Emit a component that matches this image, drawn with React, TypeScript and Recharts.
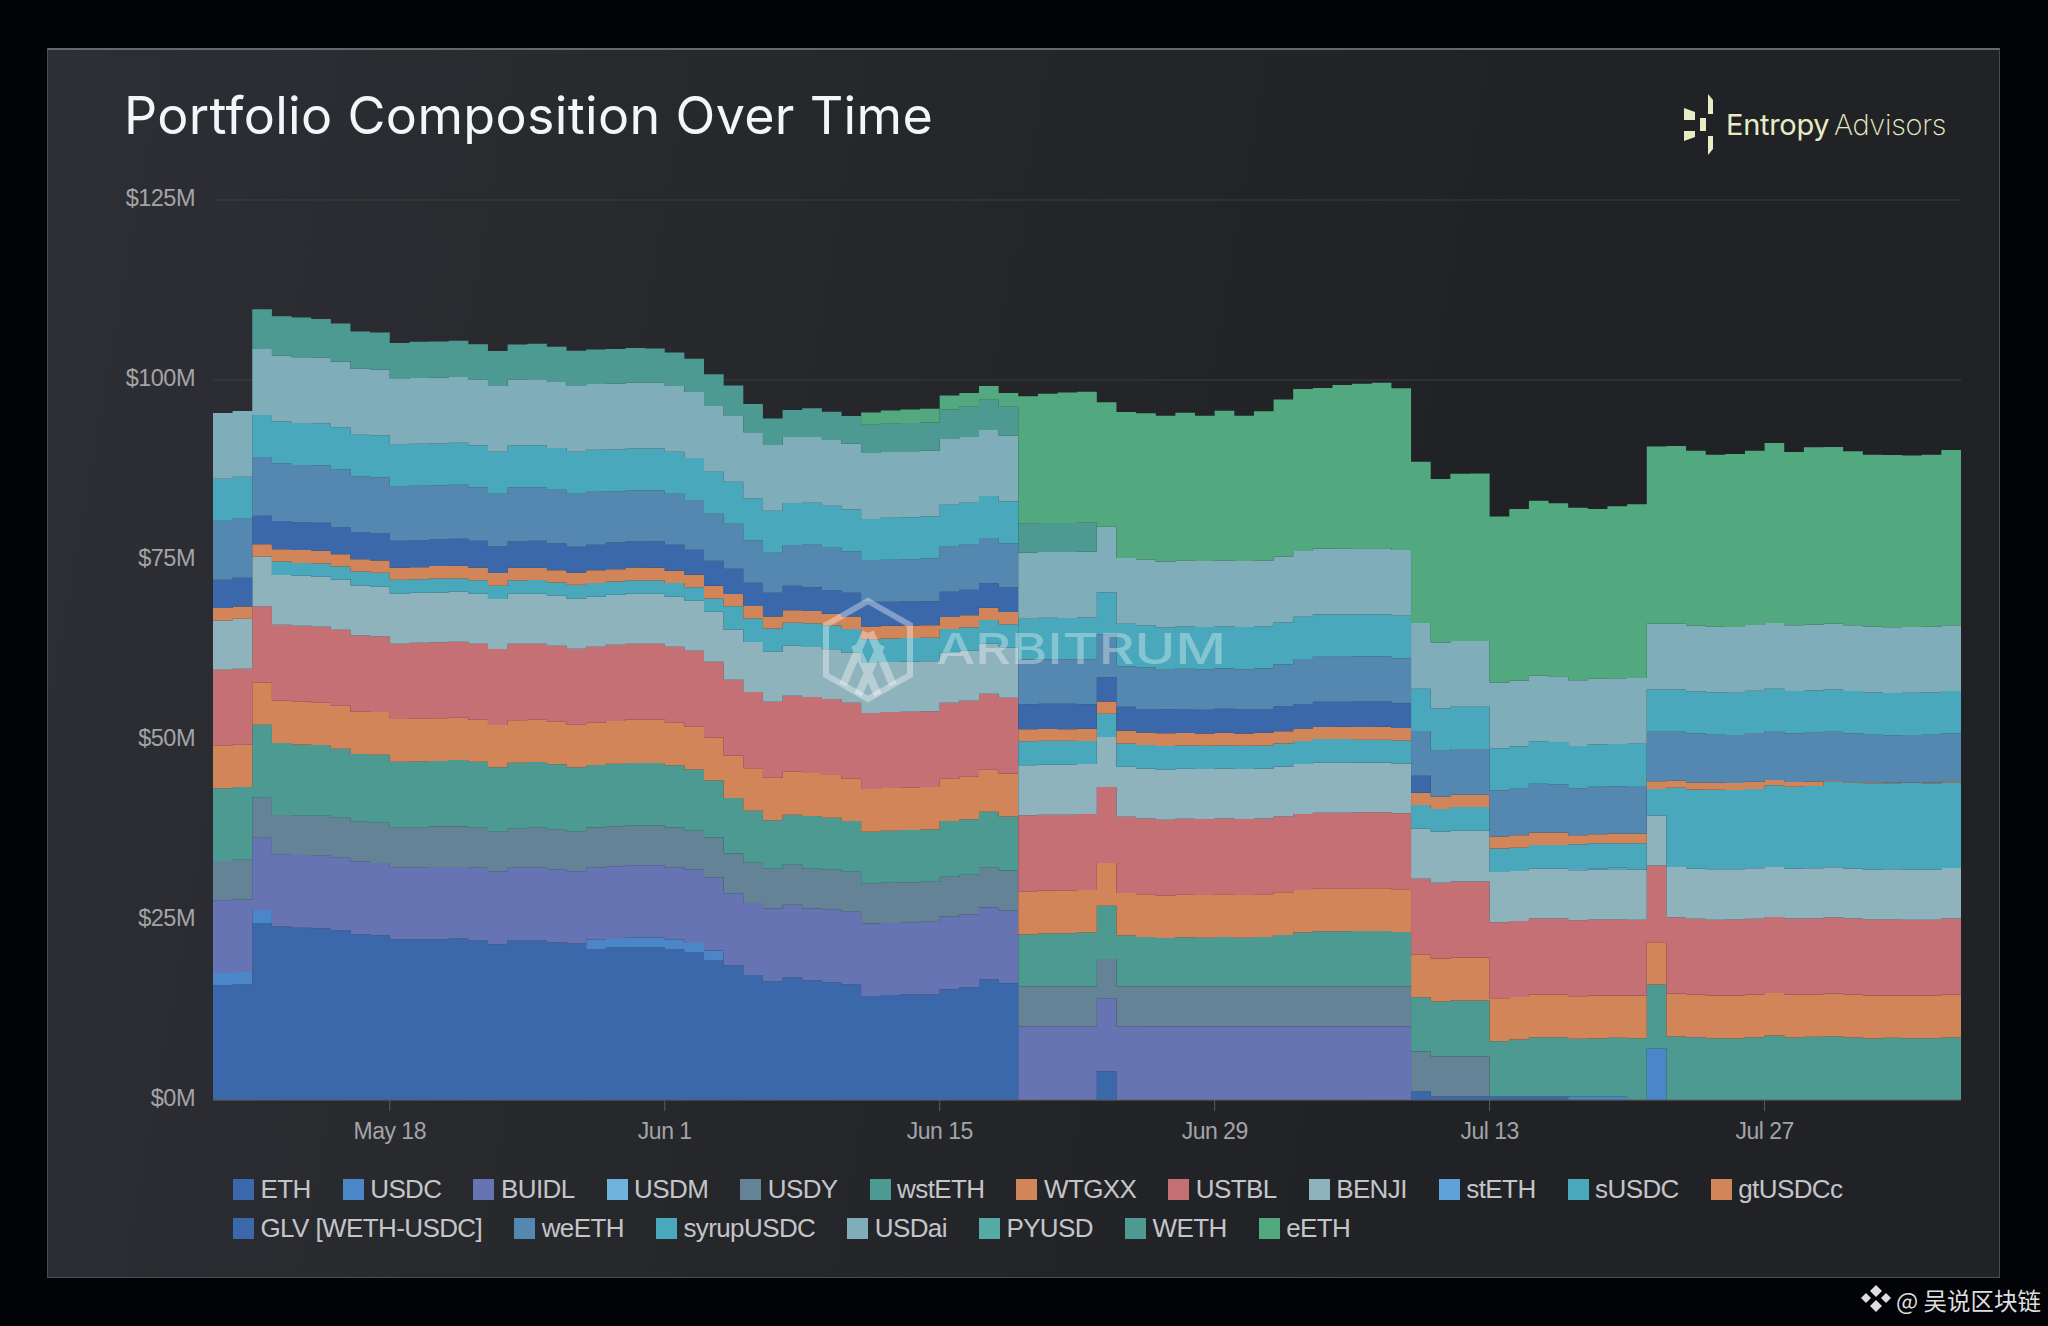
import * as React from 'react';
import { AreaChart, Area, XAxis, YAxis, CartesianGrid, Legend } from 'recharts';

// one value per day starting May 9, in $M
const eth = [
  15.89, 16.03, 24.50, 24.08, 23.94, 23.85, 23.57, 23.02, 22.88, 22.28,
  22.28, 22.28, 22.42, 22.14, 21.63, 22.14, 22.14, 21.91, 21.72, 20.98,
  21.17, 21.17, 21.17, 20.89, 20.57, 19.46, 18.67, 17.37, 16.45, 17.00,
  16.59, 16.31, 16.03, 14.46, 14.60, 14.64, 14.64, 15.38, 15.62, 16.73,
  16.22, 0, 0, 0, 0, 4.00, 0, 0, 0, 0,
  0, 0, 0, 0, 0, 0, 0, 0, 0, 0,
  0, 1.18, 0.49, 0.49, 0.49, 0.49, 0.49, 0.49, 0.49, 0,
  0, 0, 0, 0, 0, 0, 0, 0, 0, 0,
  0, 0, 0, 0, 0, 0, 0, 0, 0,
];
const usdc = [
  1.76, 1.76, 1.90, 0, 0, 0, 0, 0, 0, 0,
  0, 0, 0, 0, 0, 0, 0, 0, 0, 1.30,
  1.20, 1.39, 1.39, 1.39, 1.25, 1.30, 0, 0, 0, 0,
  0, 0, 0, 0, 0, 0, 0, 0, 0, 0,
  0, 0, 0, 0, 0, 0, 0, 0, 0, 0,
  0, 0, 0, 0, 0, 0, 0, 0, 0, 0,
  0, 0, 0, 0, 0, 0, 0, 0, 0, 0.49,
  0.49, 0.49, 0, 7.20, 0, 0, 0, 0, 0, 0,
  0, 0, 0, 0, 0, 0, 0, 0, 0,
];
const buidl = [
  10.09, 10.04, 10.04, 9.99, 10.09, 10.09, 10.09, 10.09, 10.04, 9.99,
  9.99, 10.09, 9.95, 10.13, 10.09, 10.13, 10.13, 10.13, 10.04, 10.04,
  10.09, 10.04, 10.04, 10.04, 10.18, 10.18, 10.04, 9.99, 10.13, 10.13,
  9.99, 10.13, 10.13, 10.04, 9.99, 9.99, 10.13, 10.09, 10.13, 9.99,
  10.09, 10.20, 10.20, 10.20, 10.20, 10.13, 10.20, 10.20, 10.20, 10.20,
  10.20, 10.20, 10.20, 10.20, 10.20, 10.20, 10.20, 10.20, 10.20, 10.20,
  10.20, 0, 0, 0, 0, 0, 0, 0, 0, 0,
  0, 0, 0, 0, 0, 0, 0, 0, 0, 0,
  0, 0, 0, 0, 0, 0, 0, 0, 0,
];
const usdm: number[] = [];
const usdy = [
  5.46, 5.55, 5.55, 5.51, 5.46, 5.55, 5.55, 5.55, 5.60, 5.55,
  5.55, 5.60, 5.60, 5.55, 5.55, 5.41, 5.55, 5.51, 5.51, 5.51,
  5.55, 5.51, 5.51, 5.51, 5.41, 5.51, 5.51, 5.60, 5.55, 5.55,
  5.55, 5.55, 5.55, 5.55, 5.60, 5.60, 5.55, 5.55, 5.55, 5.55,
  5.55, 5.55, 5.55, 5.55, 5.55, 5.46, 5.55, 5.55, 5.55, 5.55,
  5.55, 5.55, 5.55, 5.55, 5.55, 5.55, 5.55, 5.55, 5.55, 5.55,
  5.55, 5.55, 5.55, 5.55, 5.55, 0, 0, 0, 0, 0,
  0, 0, 0, 0, 0, 0, 0, 0, 0, 0,
  0, 0, 0, 0, 0, 0, 0, 0, 0,
];
const wsteth = [
  10.09, 10.09, 10.13, 9.99, 9.90, 9.81, 9.58, 9.39, 9.44, 9.16,
  9.21, 9.12, 9.25, 9.16, 8.93, 9.16, 9.12, 9.07, 8.93, 8.70,
  8.70, 8.70, 8.70, 8.65, 8.51, 7.91, 7.73, 7.22, 6.71, 6.94,
  7.31, 7.22, 7.03, 7.22, 7.22, 7.26, 7.26, 7.73, 7.68, 7.77,
  7.50, 7.22, 7.36, 7.40, 7.50, 7.40, 7.08, 6.89, 6.76, 6.85,
  6.80, 6.89, 6.80, 6.89, 7.17, 7.50, 7.68, 7.68, 7.73, 7.73,
  7.59, 7.54, 7.63, 7.77, 7.77, 7.68, 7.91, 8.19, 8.19, 8.00,
  8.05, 8.14, 8.58, 8.84, 8.81, 8.72, 8.58, 8.54, 8.72, 8.95,
  8.68, 8.77, 8.81, 8.68, 8.54, 8.63, 8.58, 8.58, 8.68,
];
const wtgxx = [
  5.92, 5.88, 5.88, 5.92, 5.97, 5.88, 5.97, 5.92, 5.92, 5.92,
  5.92, 5.92, 5.88, 5.83, 5.88, 5.92, 5.88, 5.92, 5.92, 5.88,
  5.92, 6.02, 6.02, 5.92, 5.92, 5.97, 5.88, 5.88, 5.92, 5.97,
  5.97, 5.92, 5.88, 5.92, 5.92, 5.88, 5.88, 5.88, 5.92, 5.83,
  5.97, 5.97, 5.97, 5.92, 5.92, 5.92, 5.92, 5.92, 5.88, 5.92,
  5.92, 5.92, 5.92, 5.92, 5.92, 5.92, 5.92, 5.92, 5.92, 5.92,
  5.92, 5.92, 5.97, 5.97, 5.97, 5.97, 5.92, 5.97, 5.97, 5.92,
  5.97, 5.88, 5.92, 5.88, 5.97, 5.92, 5.92, 5.97, 5.92, 5.92,
  5.97, 5.88, 5.97, 5.97, 5.97, 5.88, 5.92, 5.92, 5.97,
];
const ustbl = [
  10.55, 10.55, 10.55, 10.50, 10.50, 10.55, 10.55, 10.55, 10.50, 10.46,
  10.55, 10.55, 10.55, 10.55, 10.55, 10.60, 10.55, 10.55, 10.55, 10.55,
  10.60, 10.55, 10.55, 10.55, 10.55, 10.55, 10.55, 10.60, 10.55, 10.55,
  10.55, 10.55, 10.55, 10.55, 10.55, 10.55, 10.55, 10.55, 10.55, 10.55,
  10.55, 10.60, 10.55, 10.55, 10.55, 10.55, 10.60, 10.55, 10.55, 10.55,
  10.55, 10.55, 10.55, 10.55, 10.55, 10.55, 10.55, 10.55, 10.55, 10.55,
  10.55, 10.55, 10.55, 10.55, 10.55, 10.55, 10.55, 10.55, 10.55, 10.55,
  10.55, 10.55, 10.55, 10.64, 10.60, 10.55, 10.55, 10.55, 10.55, 10.55,
  10.55, 10.55, 10.55, 10.55, 10.55, 10.55, 10.55, 10.55, 10.55,
];
const benji = [
  6.85, 6.94, 6.94, 6.94, 6.94, 6.94, 6.94, 6.94, 6.94, 6.94,
  6.94, 6.94, 6.94, 6.94, 6.94, 6.94, 6.94, 6.94, 6.94, 6.94,
  6.94, 6.94, 6.94, 6.94, 6.94, 6.94, 6.94, 6.94, 6.94, 6.94,
  6.94, 6.94, 6.94, 6.94, 6.94, 6.94, 6.94, 6.94, 6.94, 6.94,
  6.94, 6.94, 6.94, 6.94, 6.94, 6.94, 6.94, 6.94, 6.94, 6.94,
  6.94, 6.94, 6.94, 6.94, 6.94, 6.94, 6.94, 6.94, 6.94, 6.94,
  6.94, 6.94, 7.08, 7.08, 7.08, 6.99, 6.94, 6.94, 6.94, 6.94,
  6.94, 6.99, 6.94, 6.94, 6.99, 6.94, 6.99, 6.99, 6.99, 6.94,
  6.94, 6.99, 6.99, 6.94, 6.94, 6.99, 6.94, 6.94, 7.03,
];
const steth = [
  0, 0, 0, 0, 0, 0, 0, 0, 0, 0,
  0, 0, 0, 0, 0, 0, 0, 0, 0, 0,
  0, 0, 0, 0, 0, 0, 0, 0, 0, 0,
  0, 0, 0, 0, 0, 0, 0, 0, 0, 0,
  0, 0, 0, 0, 0, 0, 0, 0, 0, 0,
  0, 0, 0, 0, 0, 0, 0, 0, 0, 0,
  0, 0, 0, 0, 0, 0, 0, 0, 0, 0.2,
  0.2, 0.2, 0, 0, 0, 0, 0, 0, 0, 0,
  0, 0, 0, 0, 0, 0, 0, 0, 0,
];
const susdc = [
  0, 0, 0, 1.85, 1.80, 1.85, 1.85, 1.94, 1.90, 1.94,
  1.90, 1.94, 1.85, 1.90, 1.85, 1.85, 1.90, 1.85, 1.94, 1.90,
  1.85, 1.85, 1.85, 1.90, 1.90, 1.85, 3.24, 3.29, 3.24, 3.19,
  3.33, 3.29, 3.29, 3.33, 3.29, 3.29, 3.24, 3.29, 3.24, 3.29,
  3.24, 3.33, 3.33, 3.33, 3.19, 3.24, 3.24, 3.24, 3.29, 3.24,
  3.24, 3.19, 3.24, 3.19, 3.19, 3.19, 3.29, 3.29, 3.15, 3.15,
  3.19, 3.29, 3.15, 3.29, 3.29, 3.24, 3.24, 3.29, 3.29, 3.42,
  3.47, 3.42, 3.66, 3.70, 11.01, 11.01, 11.06, 11.01, 11.01, 11.34,
  11.38, 11.43, 11.89, 11.94, 11.98, 11.94, 12.03, 11.98, 11.89,
];
const gtusdcc = [
  1.71, 1.71, 1.71, 1.71, 1.80, 1.76, 1.71, 1.71, 1.71, 1.67,
  1.67, 1.71, 1.76, 1.71, 1.76, 1.76, 1.71, 1.71, 1.67, 1.76,
  1.71, 1.80, 1.76, 1.71, 1.71, 1.76, 1.71, 1.71, 1.67, 1.76,
  1.67, 1.62, 1.76, 1.76, 1.76, 1.76, 1.76, 1.67, 1.71, 1.71,
  1.71, 1.67, 1.62, 1.62, 1.71, 1.71, 1.76, 1.76, 1.76, 1.71,
  1.71, 1.76, 1.71, 1.76, 1.71, 1.76, 1.67, 1.71, 1.76, 1.80,
  1.71, 1.71, 1.71, 1.71, 1.71, 1.67, 1.71, 1.71, 1.71, 1.25,
  1.25, 1.34, 1.34, 1.06, 0.97, 0.97, 0.97, 0.97, 1.02, 0.74,
  0.65, 0.60, 0.09, 0.09, 0.14, 0.09, 0.09, 0.09, 0.14,
];
const glv = [
  3.93, 3.98, 3.93, 3.93, 3.84, 3.89, 3.79, 3.79, 3.75, 3.75,
  3.75, 3.70, 3.75, 3.75, 3.70, 3.66, 3.75, 3.70, 3.61, 3.56,
  3.70, 3.61, 3.66, 3.61, 3.47, 3.47, 3.52, 3.24, 3.29, 3.38,
  3.33, 3.29, 3.29, 3.42, 3.33, 3.33, 3.33, 3.52, 3.52, 3.42,
  3.42, 3.47, 3.52, 3.52, 3.42, 3.38, 3.33, 3.24, 3.33, 3.33,
  3.29, 3.33, 3.33, 3.24, 3.42, 3.38, 3.52, 3.47, 3.56, 3.52,
  3.47, 2.36, 0, 0, 0, 0, 0, 0, 0, 0,
  0, 0, 0, 0, 0, 0, 0, 0, 0, 0,
  0, 0, 0, 0, 0, 0, 0, 0, 0,
];
const weeth = [
  8.19, 8.19, 8.19, 8.00, 7.96, 7.96, 8.00, 7.68, 7.77, 7.50,
  7.54, 7.50, 7.50, 7.45, 7.31, 7.50, 7.45, 7.45, 7.36, 7.36,
  7.08, 7.08, 7.08, 7.08, 6.94, 6.52, 6.25, 5.92, 5.55, 5.69,
  5.88, 5.88, 5.74, 5.69, 5.83, 5.88, 5.92, 6.25, 6.25, 6.29,
  6.11, 6.25, 6.15, 6.15, 6.25, 5.97, 5.64, 5.78, 5.51, 5.60,
  5.64, 5.60, 5.60, 5.69, 5.83, 6.25, 6.25, 6.25, 6.25, 6.25,
  6.25, 6.20, 6.39, 6.34, 6.34, 6.39, 6.48, 6.80, 6.71, 6.52,
  6.57, 6.57, 6.62, 6.89, 6.80, 6.80, 6.66, 6.66, 6.76, 6.80,
  6.76, 6.80, 6.85, 6.76, 6.62, 6.57, 6.57, 6.66, 6.66,
];
const syrupusdc = [
  5.83, 5.83, 5.83, 5.83, 5.83, 5.83, 5.83, 5.83, 5.83, 5.83,
  5.83, 5.83, 5.83, 5.83, 5.83, 5.83, 5.83, 5.83, 5.83, 5.83,
  5.83, 5.83, 5.83, 5.83, 5.83, 5.83, 5.83, 5.83, 5.83, 5.83,
  5.83, 5.83, 5.83, 5.83, 5.83, 5.83, 5.83, 5.83, 5.83, 5.83,
  5.83, 5.65, 5.78, 5.78, 5.78, 5.78, 5.87, 5.87, 5.87, 5.87,
  5.87, 5.87, 5.87, 5.87, 5.87, 5.87, 5.87, 5.87, 5.87, 5.87,
  5.87, 5.87, 5.87, 5.87, 5.87, 5.87, 5.87, 5.87, 5.87, 5.87,
  5.87, 5.87, 5.87, 5.87, 5.87, 5.87, 5.87, 5.87, 5.87, 5.87,
  5.87, 5.87, 5.87, 5.87, 5.87, 5.87, 5.87, 5.87, 5.87,
];
const usdai = [
  9.14, 9.14, 9.14, 9.14, 9.14, 9.14, 9.14, 9.14, 9.14, 9.14,
  9.14, 9.14, 9.14, 9.14, 9.14, 9.14, 9.14, 9.14, 9.14, 9.14,
  9.14, 9.14, 9.14, 9.14, 9.14, 9.14, 9.14, 9.14, 9.14, 9.14,
  9.14, 9.14, 9.14, 9.14, 9.14, 9.14, 9.14, 9.14, 9.14, 9.14,
  9.14, 9.14, 9.14, 9.14, 9.14, 9.14, 9.14, 9.14, 9.14, 9.14,
  9.14, 9.14, 9.14, 9.14, 9.14, 9.14, 9.14, 9.14, 9.14, 9.14,
  9.14, 9.14, 9.14, 9.14, 9.14, 9.14, 9.14, 9.14, 9.14, 9.14,
  9.14, 9.14, 9.14, 9.14, 9.14, 9.14, 9.14, 9.14, 9.14, 9.14,
  9.14, 9.14, 9.14, 9.14, 9.14, 9.14, 9.14, 9.14, 9.14,
];
const pyusd: number[] = [];
const weth = [
  0, 0, 5.55, 5.46, 5.51, 5.37, 5.27, 5.18, 5.18, 5.00,
  5.04, 5.04, 5.04, 4.90, 4.86, 4.90, 4.95, 4.90, 4.90, 4.77,
  4.81, 4.81, 4.72, 4.67, 4.63, 4.40, 4.21, 3.93, 3.70, 3.75,
  3.98, 3.93, 3.84, 3.93, 3.93, 3.93, 3.93, 4.12, 4.21, 4.21,
  4.03, 4.03, 4.03, 4.03, 4.03, 0, 0, 0, 0, 0,
  0, 0, 0, 0, 0, 0, 0, 0, 0, 0,
  0, 0, 0, 0, 0, 0, 0, 0, 0, 0,
  0, 0, 0, 0, 0, 0, 0, 0, 0, 0,
  0, 0, 0, 0, 0, 0, 0, 0, 0,
];
const eeth = [
  0, 0, 0, 0, 0, 0, 0, 0, 0, 0,
  0, 0, 0, 0, 0, 0, 0, 0, 0, 0,
  0, 0, 0, 0, 0, 0, 0, 0, 0, 0,
  0, 0, 0, 1.71, 1.85, 1.90, 1.90, 1.90, 1.90, 1.90,
  1.90, 17.72, 17.95, 18.14, 18.18, 17.30, 20.27, 20.31, 20.27, 20.54,
  20.17, 20.78, 20.17, 20.73, 21.79, 22.49, 22.30, 22.72, 22.86, 23.00,
  22.49, 22.39, 22.72, 23.23, 23.27, 23.04, 23.83, 24.29, 24.01, 23.97,
  23.60, 23.88, 24.11, 24.62, 24.66, 24.25, 23.88, 24.01, 24.20, 24.99,
  24.06, 24.62, 24.52, 24.15, 23.88, 23.92, 23.83, 23.88, 24.34,
];

const assets: [string, number[], string][] = [
  ['ETH', eth, '#3b68aa'],
  ['USDC', usdc, '#4a86c8'],
  ['BUIDL', buidl, '#6674b4'],
  ['USDM', usdm, '#6fb3dc'],
  ['USDY', usdy, '#648397'],
  ['wstETH', wsteth, '#4c9a92'],
  ['WTGXX', wtgxx, '#d28559'],
  ['USTBL', ustbl, '#c57074'],
  ['BENJI', benji, '#8fb3bc'],
  ['stETH', steth, '#5da3d8'],
  ['sUSDC', susdc, '#49a8bb'],
  ['gtUSDCc', gtusdcc, '#d28559'],
  ['GLV [WETH-USDC]', glv, '#3b68aa'],
  ['weETH', weeth, '#5588b0'],
  ['syrupUSDC', syrupusdc, '#49a8bb'],
  ['USDai', usdai, '#7fadb9'],
  ['PYUSD', pyusd, '#55aaa6'],
  ['WETH', weth, '#4c9a92'],
  ['eETH', eeth, '#52a97f'],
];

const yTicks = [0, 25, 50, 75, 100, 125];
const xTicks = [9, 23, 37, 51, 65, 79];
const xLabels = ['May 18', 'Jun 1', 'Jun 15', 'Jun 29', 'Jul 13', 'Jul 27'];

// the last row only closes the final step
const days = eth.length + 1;
const rows = Array.from({ length: days }, (_, day) => {
  const row: Record<string, number> = { day };
  for (const [name, values] of assets) row[name] = values[Math.min(day, days - 2)] ?? 0;
  return row;
});

const sans = '"Liberation Sans", Arial, sans-serif';

function LegendRows({ payload }: { payload?: any[] }) {
  return <div style={{ display: 'flex', flexWrap: 'wrap', width: 1780, margin: '5px 0 0 233px', rowGap: 10, fontFamily: sans, fontSize: 26, letterSpacing: -0.6, lineHeight: '29px', color: '#c4c5c8' }}>
    {(payload ?? []).map(p => <div key={p.value} style={{ display: 'flex', alignItems: 'center', marginRight: 32 }}>
      <span style={{ width: 21, height: 21, background: p.color, marginRight: 6.5 }} />
      {p.value}
    </div>)}
  </div>;
}

function Logo() {
  return <svg width={2048} height={1326} style={{ position: 'absolute', left: 0, top: 0, pointerEvents: 'none' }}>
    <g fill="#e6edc4">
      <polygon points="1684,108 1695,112 1695,120 1684,120" />
      <polygon points="1684,131 1695,131 1695,137 1684,141" />
      <rect x={1700} y={118} width={6} height={13} />
      <polygon points="1708,94 1713,100 1713,114 1708,114" />
      <polygon points="1708,136 1713,136 1713,149 1708,155" />
    </g>
    <text x={1726} y={135} fontFamily="Inter, sans-serif" fontSize={29} letterSpacing={-0.3} fill="#e6edc4">Entropy</text>
    <text x={1834} y={135} fontFamily="Inter, sans-serif" fontWeight={200} fontSize={29} letterSpacing={-0.3} fill="#e6edc4">Advisors</text>
    <g fill="none" stroke="#ffffff" strokeOpacity={0.36}>
      <polygon points="868,601 910,625 910,675 868,699 826,675 826,625" strokeWidth={6} />
      <path d="M843,685 L866,632 M858,695 L881,645 M893,685 L870,632 M878,695 L855,645" strokeWidth={8} />
    </g>
    <text x={936} y={664} fontFamily="Inter, sans-serif" fontWeight={500} fontSize={42} fill="#ffffff" fillOpacity={0.33} textLength={290} lengthAdjust="spacingAndGlyphs">ARBITRUM</text>
    <g fill="#dedede">
      <polygon points="1876,1285 1882,1291 1876,1297 1870,1291" />
      <polygon points="1876,1300 1882,1306 1876,1312 1870,1306" />
      <polygon points="1866,1293 1871,1298 1866,1303 1861,1298" />
      <polygon points="1886,1293 1891,1298 1886,1303 1881,1298" />
    </g>
  </svg>;
}

export default function App() {
  return <div style={{ position: 'absolute', left: 0, top: 0, width: 2048, height: 1326, overflow: 'hidden', background: '#020306' }}>
    <div style={{ position: 'absolute', left: 47, top: 48, width: 1953, height: 1230, boxSizing: 'border-box', background: 'linear-gradient(100deg, #2e2f34 0%, #25262a 45%, #212226 70%)', border: '1px solid #4a4b4e', borderTop: '2px solid #666769' }} />
    <div style={{ position: 'absolute', left: 124, top: 84, fontFamily: 'Inter, sans-serif', fontSize: 52, letterSpacing: 0.34, lineHeight: '64px', color: '#f4f5f8', whiteSpace: 'nowrap' }}>Portfolio Composition Over Time</div>
    <div style={{ position: 'absolute', left: 0, top: 0 }}>
      <AreaChart width={2048} height={1326} data={rows} margin={{ top: 200, right: 87, bottom: 56, left: 0 }}>
        <CartesianGrid vertical={false} stroke="#3c3d41" />
        <XAxis dataKey="day" type="number" domain={[0, 89]} ticks={xTicks} tickFormatter={(d: number) => xLabels[xTicks.indexOf(d)]}
          height={70} stroke="#5a5b5f" tickSize={11} tickMargin={12} interval={0}
          tick={{ fill: '#a3a4a8', fontSize: 23, fontFamily: sans, letterSpacing: -0.5 }} />
        <YAxis type="number" domain={[0, 125]} ticks={yTicks} tickFormatter={(v: number) => `$${v}M`} width={213}
          axisLine={false} tickLine={false} tickSize={0} tickMargin={18} interval={0}
          tick={{ fill: '#a3a4a8', fontSize: 23.5, fontFamily: sans, letterSpacing: -0.5, dy: -2.5 }} />
        {assets.map(([name, , color]) => <Area key={name} dataKey={name} name={name} stackId="portfolio" type="stepAfter"
          stroke="none" fill={color} fillOpacity={1} dot={false} activeDot={false} isAnimationActive={false} />)}
        <Legend verticalAlign="bottom" align="left" height={100} itemSorter={null as any} wrapperStyle={{ left: 0, width: 2048 }}
          content={(props: any) => <LegendRows payload={props.payload} />} />
      </AreaChart>
    </div>
    <Logo />
    <div style={{ position: 'absolute', left: 1896, top: 1282, fontFamily: '"Noto Sans CJK SC", sans-serif', fontSize: 23.5, lineHeight: '36px', color: '#dedede', whiteSpace: 'nowrap' }}>@ 吴说区块链</div>
  </div>;
}
